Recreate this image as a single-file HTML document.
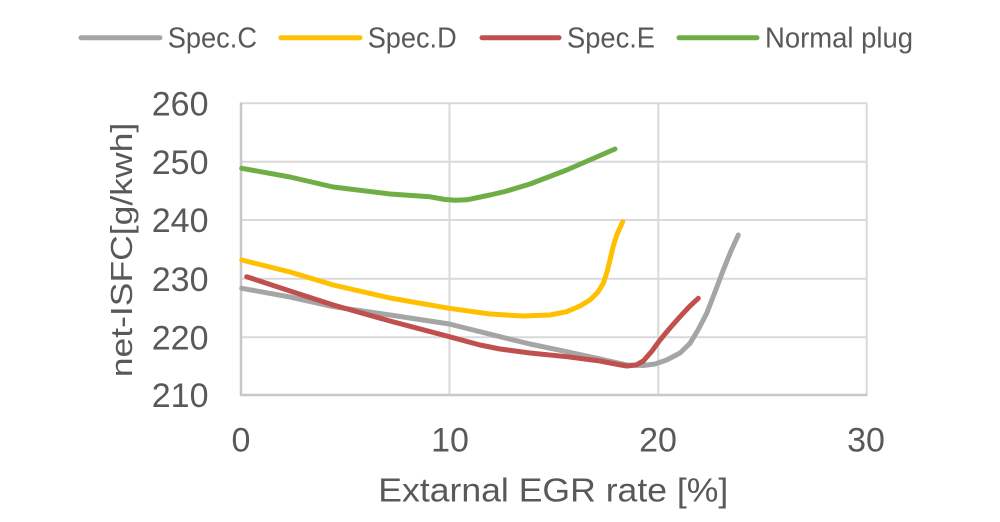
<!DOCTYPE html>
<html>
<head>
<meta charset="utf-8">
<style>
  html, body { margin: 0; padding: 0; background: #ffffff; }
  svg { display: block; }
  text { font-family: "Liberation Sans", Arial, sans-serif; fill: #595959; }
</style>
</head>
<body>
<svg width="1000" height="522" viewBox="0 0 1000 522" xmlns="http://www.w3.org/2000/svg">
  <rect width="1000" height="522" fill="#ffffff"/>

  <!-- gridlines -->
  <g stroke="#d9d9d9" stroke-width="2" fill="none">
    <line x1="241" y1="103.3" x2="867" y2="103.3"/>
    <line x1="241" y1="161.7" x2="867" y2="161.7"/>
    <line x1="241" y1="220" x2="867" y2="220"/>
    <line x1="241" y1="278.7" x2="867" y2="278.7"/>
    <line x1="241" y1="337.3" x2="867" y2="337.3"/>
    <line x1="449.5" y1="103.3" x2="449.5" y2="395"/>
    <line x1="658.3" y1="103.3" x2="658.3" y2="395"/>
    <line x1="866.7" y1="103.3" x2="866.7" y2="395"/>
  </g>
  <!-- axes -->
  <g stroke="#c8c8c8" stroke-width="2.5" fill="none">
    <line x1="241" y1="102.5" x2="241" y2="396"/>
    <line x1="240" y1="395" x2="867.5" y2="395"/>
  </g>

  <!-- series -->
  <g fill="none" stroke-width="5" stroke-linecap="round" stroke-linejoin="round">
    <polyline stroke="#a5a5a5" points="241.7,288.3 290,297 333.3,306.7 390,315 449.3,324 500,336.7 530,344 566.7,351.7 600,359 626.7,365 643.3,365.5 655,364 666.7,360 680,353 690,343.3 698,330 706.7,313.3 715,292 723.3,270 731,251 738.3,235"/>
    <polyline stroke="#ffc000" points="241.7,260 290,272 333.3,285 390,298 449.3,308.3 490,314 523,316 550,315 566.7,311.7 580,306 590,300 598,292 603.3,283.3 607,272 610,260 613,247 616.7,235 622.7,221.7"/>
    <polyline stroke="#c0504d" points="246.7,276.7 290,291 333.3,305 390,321 449.3,336.7 480,345 500,349 530,353 566.7,356.7 600,361 618,364.5 626.7,366 636,365 643.3,361 652,351 660,340 670,328 680,316.7 690,306 698.3,298.3"/>
    <polyline stroke="#70ad47" points="241.7,168.3 290,177 333.3,187 390,194 430,196.8 445,199.5 455,200.3 467,199.8 478,197.5 490,195 505,191.5 530,184 566.7,170 592,159 615,149"/>
  </g>

  <!-- y tick labels -->
  <g font-size="34" text-anchor="end">
    <text x="208.5" y="115.5">260</text>
    <text x="208.5" y="173.9">250</text>
    <text x="208.5" y="232.2">240</text>
    <text x="208.5" y="290.9">230</text>
    <text x="208.5" y="349.5">220</text>
    <text x="208.5" y="407.2">210</text>
  </g>

  <!-- x tick labels -->
  <g font-size="34" text-anchor="middle">
    <text x="241" y="451.5">0</text>
    <text x="450" y="451.5">10</text>
    <text x="658" y="451.5">20</text>
    <text x="866" y="451.5">30</text>
  </g>

  <!-- axis titles -->
  <text x="378.3" y="501.7" font-size="33" textLength="350" lengthAdjust="spacingAndGlyphs">Extarnal EGR rate [%]</text>
  <text transform="translate(132,377.3) rotate(-90)" x="0" y="0" font-size="31" textLength="254.6" lengthAdjust="spacingAndGlyphs">net-ISFC[g/kwh]</text>

  <!-- legend -->
  <g stroke-width="5" stroke-linecap="round">
    <line x1="81" y1="37.7" x2="160" y2="37.7" stroke="#a5a5a5"/>
    <line x1="281" y1="37.7" x2="360" y2="37.7" stroke="#ffc000"/>
    <line x1="482" y1="37.7" x2="559" y2="37.7" stroke="#c0504d"/>
    <line x1="679" y1="37.7" x2="757" y2="37.7" stroke="#70ad47"/>
  </g>
  <g font-size="29">
    <text x="167.7" y="47.3" textLength="89.3" lengthAdjust="spacingAndGlyphs">Spec.C</text>
    <text x="367.7" y="47.3" textLength="89" lengthAdjust="spacingAndGlyphs">Spec.D</text>
    <text x="567" y="47.3" textLength="88" lengthAdjust="spacingAndGlyphs">Spec.E</text>
    <text x="765" y="47.3" textLength="148" lengthAdjust="spacingAndGlyphs">Normal plug</text>
  </g>
</svg>
</body>
</html>
